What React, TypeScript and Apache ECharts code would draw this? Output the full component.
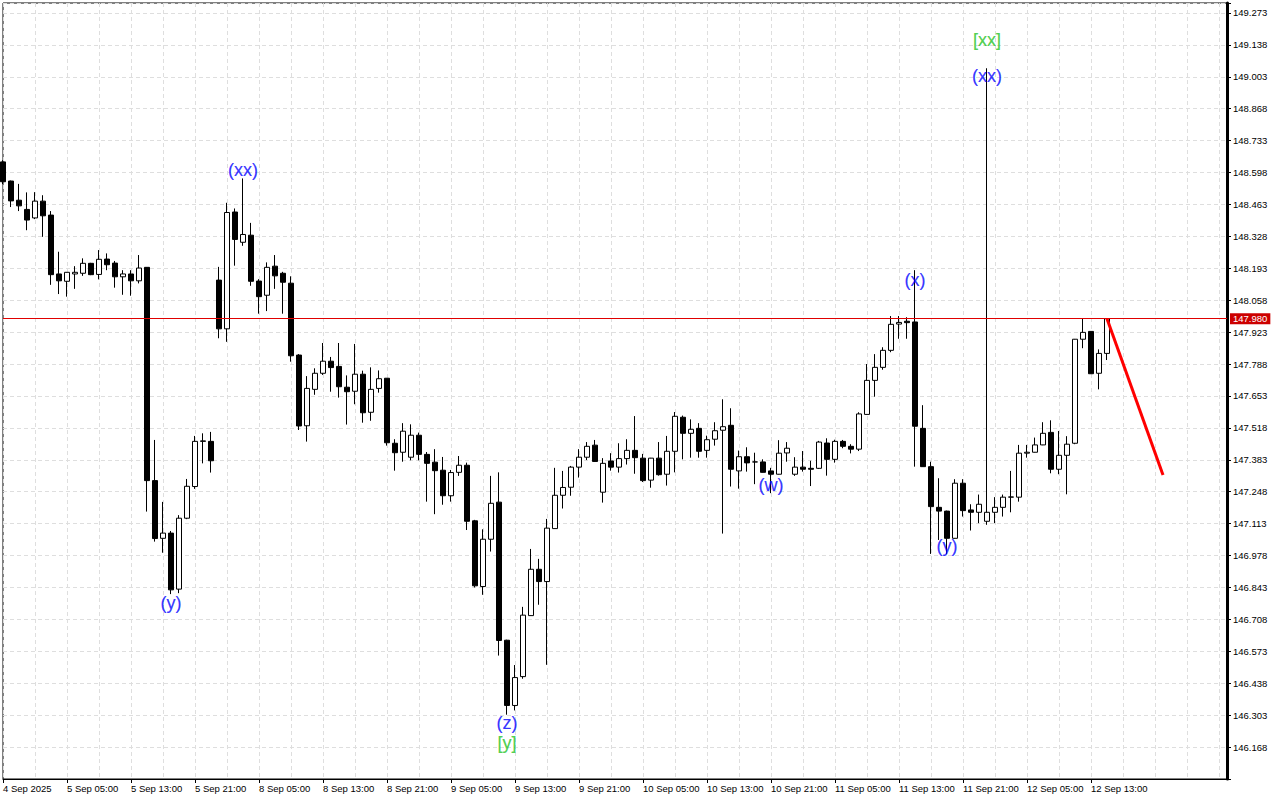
import React, { useEffect, useRef } from "react";
import * as echarts from "echarts";

// ---- time axis labels (one every 8 hourly bars) ----
const timeLabels = [
  "4 Sep 2025", "5 Sep 05:00", "5 Sep 13:00", "5 Sep 21:00", "8 Sep 05:00", "8 Sep 13:00",
  "8 Sep 21:00", "9 Sep 05:00", "9 Sep 13:00", "9 Sep 21:00", "10 Sep 05:00", "10 Sep 13:00",
  "10 Sep 21:00", "11 Sep 05:00", "11 Sep 13:00", "11 Sep 21:00", "12 Sep 05:00", "12 Sep 13:00",
];
const LABEL_STEP = 8;
const SLOT_COUNT = 154; // 139 bars + empty space to the right

// ---- H1 candles ----
const open = [
  148.643, 148.562, 148.481, 148.442, 148.406, 148.477, 148.418, 148.169, 148.138, 148.169,
  148.172, 148.214, 148.167, 148.232, 148.215, 148.157, 148.169, 148.140, 148.197, 147.295,
  147.051, 147.073, 146.836, 147.136, 147.270, 147.461, 147.461, 148.143, 147.937, 148.431,
  148.303, 148.333, 148.139, 148.079, 148.202, 148.172, 148.130, 147.826, 147.527, 147.681,
  147.749, 147.800, 147.778, 147.690, 147.673, 147.745, 147.584, 147.685, 147.728, 147.453,
  147.415, 147.394, 147.487, 147.406, 147.373, 147.339, 147.231, 147.330, 147.360, 147.125,
  146.847, 147.047, 147.204, 146.620, 146.344, 146.466, 146.724, 146.920, 146.868, 147.092,
  147.233, 147.267, 147.352, 147.394, 147.445, 147.246, 147.378, 147.352, 147.388, 147.423,
  147.390, 147.297, 147.390, 147.322, 147.419, 147.563, 147.495, 147.516, 147.423, 147.470,
  147.508, 147.529, 147.336, 147.396, 147.374, 147.374, 147.336, 147.322, 147.412, 147.322,
  147.352, 147.347, 147.347, 147.454, 147.385, 147.461, 147.440, 147.428, 147.575, 147.719,
  147.774, 147.846, 147.957, 147.969, 147.966, 147.516, 147.354, 147.182, 147.166, 147.051,
  147.284, 147.171, 147.161, 147.123, 147.161, 147.182, 147.225, 147.225, 147.411, 147.415,
  147.446, 147.499, 147.343, 147.402, 147.453, 147.893, 147.926, 147.749, 147.833,
];
const close = [
  148.559, 148.478, 148.457, 148.397, 148.477, 148.415, 148.166, 148.140, 148.176, 148.176,
  148.214, 148.166, 148.231, 148.208, 148.157, 148.169, 148.140, 148.194, 147.295, 147.050,
  147.073, 146.833, 147.136, 147.271, 147.461, 147.463, 147.379, 147.937, 148.429, 148.315,
  148.336, 148.138, 148.073, 148.197, 148.161, 148.134, 147.823, 147.526, 147.685, 147.749,
  147.800, 147.773, 147.692, 147.671, 147.745, 147.582, 147.681, 147.726, 147.455, 147.413,
  147.504, 147.487, 147.406, 147.368, 147.337, 147.231, 147.329, 147.360, 147.123, 146.850,
  147.047, 147.199, 146.619, 146.344, 146.462, 146.726, 146.920, 146.868, 147.094, 147.233,
  147.266, 147.352, 147.394, 147.440, 147.376, 147.368, 147.352, 147.388, 147.423, 147.392,
  147.295, 147.390, 147.320, 147.419, 147.567, 147.495, 147.512, 147.419, 147.468, 147.506,
  147.523, 147.343, 147.396, 147.370, 147.374, 147.330, 147.322, 147.411, 147.432, 147.352,
  147.343, 147.343, 147.458, 147.385, 147.461, 147.440, 147.428, 147.577, 147.719, 147.774,
  147.846, 147.956, 147.964, 147.963, 147.525, 147.354, 147.185, 147.166, 147.051, 147.284,
  147.168, 147.161, 147.195, 147.161, 147.182, 147.225, 147.226, 147.411, 147.415, 147.446,
  147.495, 147.343, 147.402, 147.449, 147.893, 147.922, 147.747, 147.833, 147.980,
];
const low = [
  148.549, 148.452, 148.435, 148.354, 148.401, 148.326, 148.123, 148.084, 148.073, 148.106,
  148.161, 148.164, 148.146, 148.185, 148.111, 148.081, 148.077, 148.129, 147.164, 147.037,
  146.990, 146.815, 146.819, 147.132, 147.260, 147.368, 147.329, 147.897, 147.882, 148.204,
  148.288, 148.119, 148.001, 148.012, 148.106, 148.001, 147.798, 147.509, 147.460, 147.658,
  147.742, 147.671, 147.646, 147.532, 147.618, 147.540, 147.548, 147.667, 147.443, 147.337,
  147.375, 147.381, 147.381, 147.206, 147.153, 147.193, 147.206, 147.315, 147.086, 146.843,
  146.812, 146.995, 146.555, 146.305, 146.323, 146.457, 146.723, 146.770, 146.516, 147.092,
  147.177, 147.231, 147.308, 147.382, 147.375, 147.202, 147.337, 147.329, 147.363, 147.324,
  147.289, 147.265, 147.316, 147.274, 147.330, 147.385, 147.392, 147.392, 147.392, 147.443,
  147.071, 147.270, 147.261, 147.333, 147.280, 147.329, 147.242, 147.321, 147.375, 147.315,
  147.333, 147.272, 147.344, 147.316, 147.371, 147.432, 147.410, 147.420, 147.574, 147.650,
  147.764, 147.838, 147.895, 147.895, 147.354, 147.353, 146.985, 147.044, 146.985, 147.050,
  147.143, 147.084, 147.115, 147.108, 147.115, 147.143, 147.161, 147.206, 147.392, 147.414,
  147.445, 147.326, 147.322, 147.237, 147.449, 147.855, 147.746, 147.681, 147.805,
];
const high = [
  148.650, 148.564, 148.550, 148.514, 148.515, 148.502, 148.435, 148.263, 148.177, 148.202,
  148.235, 148.216, 148.270, 148.256, 148.224, 148.185, 148.185, 148.249, 148.198, 147.467,
  147.205, 147.082, 147.149, 147.302, 147.484, 147.495, 147.501, 148.199, 148.470, 148.446,
  148.573, 148.385, 148.147, 148.218, 148.249, 148.178, 148.159, 147.830, 147.737, 147.770,
  147.877, 147.818, 147.877, 147.740, 147.873, 147.760, 147.774, 147.761, 147.729, 147.470,
  147.538, 147.533, 147.498, 147.416, 147.428, 147.395, 147.340, 147.399, 147.371, 147.129,
  147.089, 147.315, 147.330, 146.622, 146.515, 146.761, 147.006, 146.964, 147.133, 147.349,
  147.336, 147.357, 147.428, 147.458, 147.467, 147.390, 147.411, 147.453, 147.470, 147.568,
  147.408, 147.391, 147.458, 147.484, 147.585, 147.570, 147.554, 147.538, 147.485, 147.542,
  147.639, 147.601, 147.422, 147.436, 147.413, 147.385, 147.349, 147.466, 147.458, 147.394,
  147.420, 147.379, 147.463, 147.474, 147.468, 147.467, 147.449, 147.584, 147.788, 147.830,
  147.859, 147.991, 147.991, 147.986, 148.185, 147.614, 147.375, 147.305, 147.168, 147.301,
  147.301, 147.195, 147.236, 149.039, 147.225, 147.236, 147.336, 147.446, 147.446, 147.477,
  147.542, 147.550, 147.505, 147.483, 147.894, 147.981, 147.927, 147.850, 147.980,
];

// ---- current price and forecast ----
const currentPrice = 147.98;
const forecastBars = [138, 145];
const forecastPrices = [147.98, 147.319];

// ---- wave labels ----
const waveBars = [30, 21, 63, 63, 96, 114, 118, 123, 123];
const waveLevels = [148.608, 146.778, 146.271, 146.186, 147.277, 148.143, 147.019, 149.005, 149.158];
const waveTexts = ["(xx)", "(y)", "(z)", "[y]", "(w)", "(x)", "(y)", "(xx)", "[xx]"];

// ---- price axis ----
const priceMin = 146.033;
const priceMax = 149.315;
const priceStep = 0.135;

const FONT = "Liberation Sans, Arial, sans-serif";
const GRID_LINE = { color: "#dedede", type: [4, 3] as number[], width: 1 };

export default function App() {
  const ref = useRef<HTMLDivElement>(null);

  useEffect(() => {
    if (!ref.current) return;
    const chart = echarts.init(ref.current, undefined, { renderer: "svg" });

    const slots = Array.from({ length: SLOT_COUNT }, (_, i) => String(i));
    const candles = open.map((o, i) => [o, close[i], low[i], high[i]]);
    const isLabelSlot = (i: number) => i % LABEL_STEP === 0 && i / LABEL_STEP < timeLabels.length;

    const waveData = waveTexts.map((t, k) => {
      const c = t.startsWith("[") ? "#22c322" : "#0000ff";
      return {
        value: [String(waveBars[k]), waveLevels[k]],
        label: {
          show: true,
          position: "inside",
          formatter: t,
          color: c,
          textBorderWidth: 0.2,
          textBorderColor: c,
          fontSize: 18,
          fontFamily: FONT,
        },
      };
    });

    chart.setOption({
      animation: false,
      backgroundColor: "#ffffff",
      textStyle: { fontFamily: FONT },
      grid: {
        left: 3,
        right: 53,
        top: 3,
        bottom: 21,
        show: true,
        borderColor: "#000",
        borderWidth: 1,
        backgroundColor: "transparent",
      },
      xAxis: {
        type: "category",
        data: slots,
        boundaryGap: false,
        axisLine: { show: true, lineStyle: { color: "#000", width: 1 } },
        axisTick: {
          show: true,
          length: 4,
          interval: (i: number) => isLabelSlot(i),
          lineStyle: { color: "#000" },
        },
        axisLabel: {
          show: true,
          interval: (i: number) => isLabelSlot(i),
          formatter: (_v: string, i: number) => timeLabels[i / LABEL_STEP] ?? "",
          align: "left",
          margin: 4,
          color: "#000",
          fontSize: 9.5,
          fontFamily: FONT,
        },
        splitLine: {
          show: true,
          interval: (i: number) => i % 4 === 0,
          lineStyle: GRID_LINE,
        },
      },
      yAxis: {
        type: "value",
        position: "right",
        min: priceMin,
        max: priceMax,
        interval: priceStep,
        axisLine: { show: true, lineStyle: { color: "#000", width: 3 } },
        axisTick: { show: true, length: 4, lineStyle: { color: "#000" } },
        axisLabel: {
          margin: 6,
          color: "#000",
          fontSize: 9.5,
          fontFamily: FONT,
          formatter: (v: number) => (v < priceMin + 0.05 || v > priceMax - 0.02 ? "" : v.toFixed(3)),
        },
        splitLine: { show: true, lineStyle: GRID_LINE },
      },
      series: [
        {
          type: "candlestick",
          data: candles,
          barWidth: 5,
          clip: false,
          itemStyle: {
            color: "#ffffff",
            color0: "#000000",
            borderColor: "#000000",
            borderColor0: "#000000",
            borderWidth: 1,
          },
          markLine: {
            silent: true,
            symbol: ["none", "none"],
            data: [
              {
                yAxis: currentPrice,
                lineStyle: { color: "#e00000", width: 1, type: "solid" },
                label: {
                  show: true,
                  position: "end",
                  distance: 3,
                  formatter: currentPrice.toFixed(3),
                  color: "#ffffff",
                  backgroundColor: "#cc0000",
                  padding: [1, 3, 1, 3],
                  fontSize: 9.5,
                  lineHeight: 9,
                  fontFamily: FONT,
                },
              },
              [
                {
                  coord: [slots[forecastBars[0]], forecastPrices[0]],
                  lineStyle: { color: "#ff0000", width: 3, type: "solid" },
                  label: { show: false },
                },
                { coord: [slots[forecastBars[1]], forecastPrices[1]] },
              ],
            ],
          },
        },
        {
          type: "scatter",
          symbolSize: 0,
          silent: true,
          data: waveData,
          z: 10,
        },
      ],
    });

    return () => chart.dispose();
  }, []);

  return (
    <div
      ref={ref}
      style={{ position: "absolute", left: 0, top: 0, width: 1280, height: 800, background: "#fff" }}
    />
  );
}
